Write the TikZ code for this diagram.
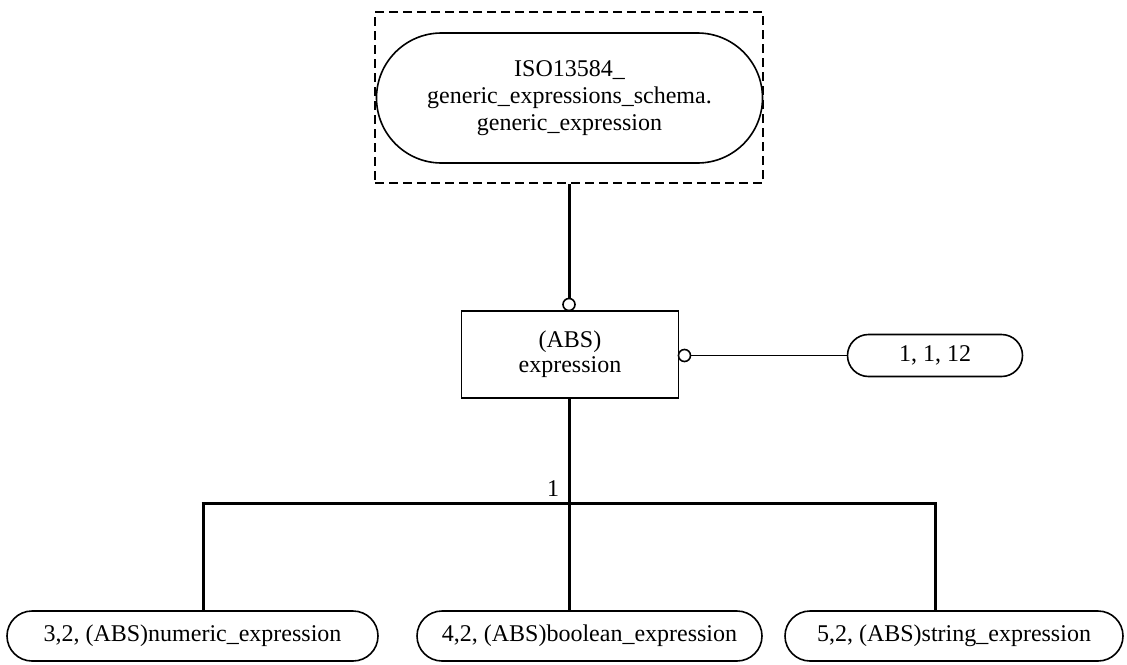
\documentclass[tikz,border=0pt]{standalone}
\usepackage{fontspec}
\setmainfont{Liberation Serif}
\usetikzlibrary{shapes.misc}
\begin{document}
\begin{tikzpicture}[x=1pt,y=-1pt,
  every node/.style={font=\fontsize{24}{27}\selectfont, align=center, inner sep=0pt},
  pill/.style={draw, rounded rectangle, line width=1.6pt},
  boxnode/.style={draw, rectangle, line width=1.6pt},
  ring/.style={draw, circle, line width=1.6pt, minimum size=12pt, fill=white},
  thickline/.style={line width=3pt},
  thinline/.style={line width=1.6pt}]
\useasboundingbox (0,0) rectangle (1127,664);
% top dashed frame and pill
\node[draw, dashed, dash pattern=on 9pt off 5pt, line width=1.6pt, minimum width=388pt, minimum height=171pt] (frame) at (569,97.5) {};
\node[pill, minimum width=386pt, minimum height=130pt] (gen) at (569.5,98) {ISO13584\_\\generic\_expressions\_schema.\\generic\_expression};
% expression box
\node[boxnode, minimum width=217pt, minimum height=87pt, font=\fontsize{24}{25}\selectfont] (expr) at (570,354.5) {(ABS)\\expression};
\node[ring] (c1) at (569,304.5) {};
\node[ring] (c2) at (684.5,355.5) {};
\node[pill, minimum width=175pt, minimum height=42pt] (ref) at (935,355.5) {1, 1, 12};
% bottom pills
\node[pill, minimum width=371pt, minimum height=50pt] (num) at (192.5,636) {3,2, (ABS)numeric\_expression};
\node[pill, minimum width=345pt, minimum height=50pt] (bool) at (589.5,636) {4,2, (ABS)boolean\_expression};
\node[pill, minimum width=338pt, minimum height=50pt] (str) at (954,636) {5,2, (ABS)string\_expression};
% connectors
\draw[thickline] (frame.south -| c1) -- (c1.north);
\draw[thinline] (c2.east) -- (ref.west);
\coordinate (bar) at (569,503);
\coordinate (bl) at (203,503);
\coordinate (br) at (935,503);
\draw[thickline] (expr.south -| bar) -- (bar);
\draw[thickline] ([xshift=-1.5pt]bl) -- ([xshift=1.5pt]br);
\draw[thickline] ([yshift=-1.5pt]bl) -- (bl |- num.north);
\draw[thickline] (bar) -- (bar |- bool.north);
\draw[thickline] ([yshift=-1.5pt]br) -- (br |- str.north);
\node[anchor=south] (one) at (553,497) {1};
\end{tikzpicture}
\end{document}
